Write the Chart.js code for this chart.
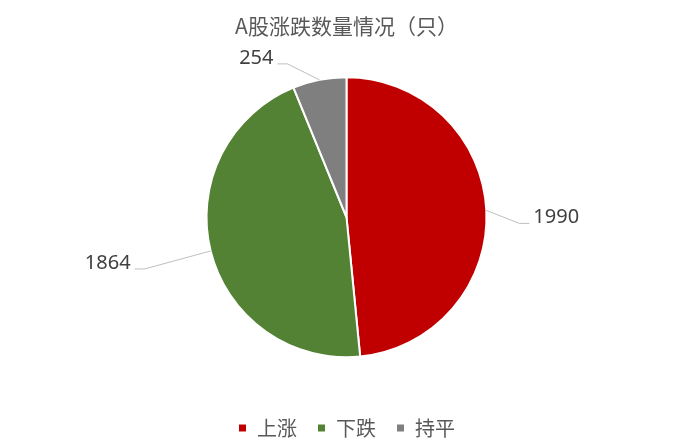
<!DOCTYPE html>
<html>
<head>
<meta charset="utf-8">
<script src="https://cdn.jsdelivr.net/npm/chart.js@4/dist/chart.umd.min.js"></script>
<style>
  html, body { margin: 0; padding: 0; background: #fff; }
  .chart-container { width: 693px; height: 448px; position: relative; }
</style>
</head>
<body>
<div class="chart-container">
  <canvas id="chart"></canvas>
</div>
<script>
const categories = ['上涨', '下跌', '持平'];
const counts = [1990, 1864, 254];
const sliceColors = ['#C00000', '#548235', '#7F7F7F'];

// where each data label sits relative to its slice edge (elbow of the leader line)
const labelOffsets = [
  { dx: 33, dy: 13 },
  { dx: -66, dy: 18 },
  { dx: -32, dy: -16 }
];

const CJK = '"Noto Sans CJK SC", "Noto Sans", sans-serif';

const leaderLabels = {
  id: 'leaderLabels',
  afterDatasetsDraw(chart) {
    const ctx = chart.ctx;
    const meta = chart.getDatasetMeta(0);
    ctx.save();
    meta.data.forEach((arc, i) => {
      const mid = (arc.startAngle + arc.endAngle) / 2;
      const sx = arc.x + Math.cos(mid) * arc.outerRadius;
      const sy = arc.y + Math.sin(mid) * arc.outerRadius;
      const off = labelOffsets[i];
      const ex = sx + off.dx;
      const ey = sy + off.dy;
      const dir = off.dx >= 0 ? 1 : -1;
      const hx = ex + dir * 10;

      ctx.beginPath();
      ctx.moveTo(sx, sy);
      ctx.lineTo(ex, ey);
      ctx.lineTo(hx, ey);
      ctx.strokeStyle = '#BFBFBF';
      ctx.lineWidth = 1;
      ctx.stroke();

      ctx.fillStyle = '#404040';
      ctx.font = '20px "Noto Sans", sans-serif';
      ctx.textBaseline = 'middle';
      ctx.textAlign = dir > 0 ? 'left' : 'right';
      ctx.fillText(String(counts[i]), hx + dir * 4, ey - 6);
    });
    ctx.restore();
  }
};

new Chart(document.getElementById('chart'), {
  type: 'pie',
  data: {
    labels: categories,
    datasets: [{
      data: counts,
      backgroundColor: sliceColors,
      borderColor: '#FFFFFF',
      borderWidth: 2,
      radius: 140
    }]
  },
  options: {
    responsive: true,
    maintainAspectRatio: false,
    animation: false,
    layout: { padding: 0 },
    plugins: {
      title: {
        display: true,
        text: 'A股涨跌数量情况（只）',
        color: '#595959',
        font: { family: CJK, size: 21, weight: 'normal', lineHeight: 1 },
        padding: { top: 15.5, bottom: 0 }
      },
      legend: {
        position: 'bottom',
        labels: {
          color: '#595959',
          font: { family: CJK, size: 20 },
          boxWidth: 9,
          boxHeight: 9,
          padding: 20
        }
      },
      tooltip: { enabled: false }
    }
  },
  plugins: [leaderLabels]
});
</script>
</body>
</html>
